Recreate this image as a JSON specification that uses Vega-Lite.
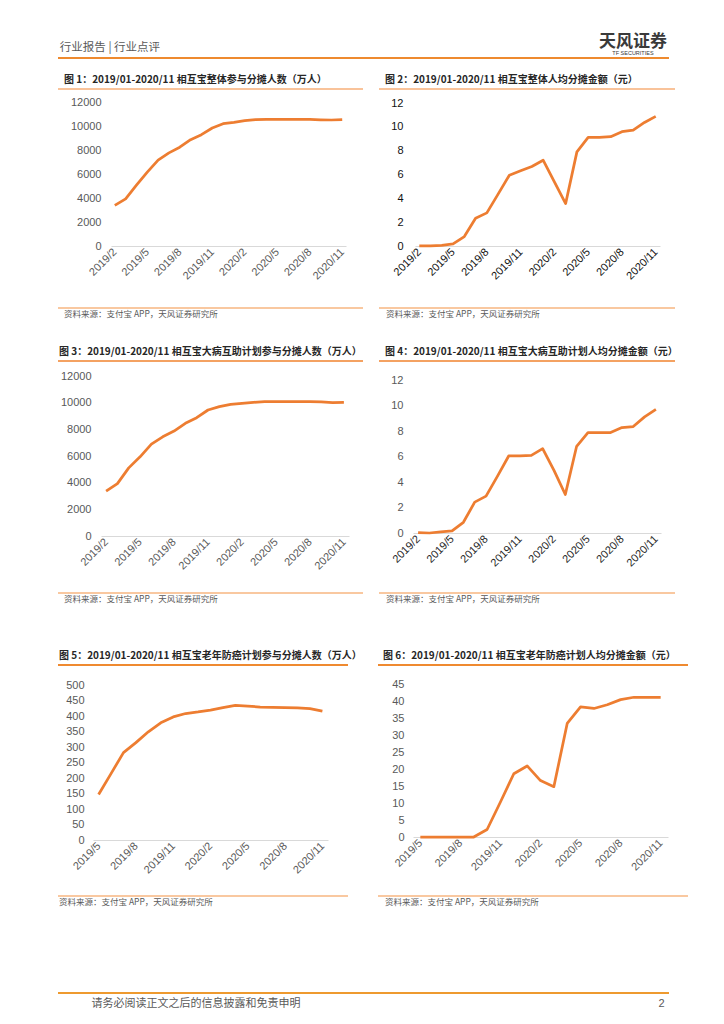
{
"$schema": "https://vega.github.io/schema/vega-lite/v6.json",
"padding": {"left": 57, "top": 25, "right": 0, "bottom": 0},
"background": "white",
"config": {"view": {"stroke": null}, "font": "Liberation Sans", "title": {"font": "Noto Sans CJK SC"}},
"datasets": {
"d1": [{"month":"2019/2","value":3380},{"month":"2019/3","value":3930},{"month":"2019/4","value":5070},{"month":"2019/5","value":6150},{"month":"2019/6","value":7150},{"month":"2019/7","value":7760},{"month":"2019/8","value":8230},{"month":"2019/9","value":8860},{"month":"2019/10","value":9280},{"month":"2019/11","value":9830},{"month":"2019/12","value":10190},{"month":"2020/1","value":10300},{"month":"2020/2","value":10440},{"month":"2020/3","value":10530},{"month":"2020/4","value":10550},{"month":"2020/5","value":10550},{"month":"2020/6","value":10550},{"month":"2020/7","value":10550},{"month":"2020/8","value":10550},{"month":"2020/9","value":10520},{"month":"2020/10","value":10500},{"month":"2020/11","value":10540}],
"d2": [{"month":"2019/2","value":0.02},{"month":"2019/3","value":0.01},{"month":"2019/4","value":0.05},{"month":"2019/5","value":0.17},{"month":"2019/6","value":0.79},{"month":"2019/7","value":2.33},{"month":"2019/8","value":2.78},{"month":"2019/9","value":4.35},{"month":"2019/10","value":5.94},{"month":"2019/11","value":6.31},{"month":"2019/12","value":6.67},{"month":"2020/1","value":7.2},{"month":"2020/2","value":5.38},{"month":"2020/3","value":3.56},{"month":"2020/4","value":7.9},{"month":"2020/5","value":9.11},{"month":"2020/6","value":9.11},{"month":"2020/7","value":9.17},{"month":"2020/8","value":9.59},{"month":"2020/9","value":9.73},{"month":"2020/10","value":10.37},{"month":"2020/11","value":10.88}],
"d3": [{"month":"2019/2","value":3360},{"month":"2019/3","value":3930},{"month":"2019/4","value":5110},{"month":"2019/5","value":5940},{"month":"2019/6","value":6890},{"month":"2019/7","value":7440},{"month":"2019/8","value":7870},{"month":"2019/9","value":8450},{"month":"2019/10","value":8870},{"month":"2019/11","value":9450},{"month":"2019/12","value":9700},{"month":"2020/1","value":9870},{"month":"2020/2","value":9950},{"month":"2020/3","value":10025},{"month":"2020/4","value":10075},{"month":"2020/5","value":10075},{"month":"2020/6","value":10075},{"month":"2020/7","value":10080},{"month":"2020/8","value":10075},{"month":"2020/9","value":10060},{"month":"2020/10","value":10000},{"month":"2020/11","value":10020}],
"d4": [{"month":"2019/2","value":0.03},{"month":"2019/3","value":0.0},{"month":"2019/4","value":0.08},{"month":"2019/5","value":0.16},{"month":"2019/6","value":0.84},{"month":"2019/7","value":2.42},{"month":"2019/8","value":2.89},{"month":"2019/9","value":4.44},{"month":"2019/10","value":6.04},{"month":"2019/11","value":6.04},{"month":"2019/12","value":6.09},{"month":"2020/1","value":6.62},{"month":"2020/2","value":4.91},{"month":"2020/3","value":3.02},{"month":"2020/4","value":6.8},{"month":"2020/5","value":7.88},{"month":"2020/6","value":7.88},{"month":"2020/7","value":7.88},{"month":"2020/8","value":8.27},{"month":"2020/9","value":8.35},{"month":"2020/10","value":9.11},{"month":"2020/11","value":9.69}],
"d5": [{"month":"2019/5","value":147},{"month":"2019/6","value":214},{"month":"2019/7","value":282},{"month":"2019/8","value":314},{"month":"2019/9","value":349},{"month":"2019/10","value":378},{"month":"2019/11","value":397},{"month":"2019/12","value":408},{"month":"2020/1","value":413},{"month":"2020/2","value":419},{"month":"2020/3","value":427},{"month":"2020/4","value":434},{"month":"2020/5","value":432},{"month":"2020/6","value":429},{"month":"2020/7","value":428},{"month":"2020/8","value":427},{"month":"2020/9","value":426},{"month":"2020/10","value":424},{"month":"2020/11","value":416}],
"d6": [{"month":"2019/5","value":0},{"month":"2019/6","value":0},{"month":"2019/7","value":0},{"month":"2019/8","value":0},{"month":"2019/9","value":0},{"month":"2019/10","value":2.2},{"month":"2019/11","value":10.3},{"month":"2019/12","value":18.6},{"month":"2020/1","value":20.9},{"month":"2020/2","value":16.6},{"month":"2020/3","value":14.8},{"month":"2020/4","value":33.4},{"month":"2020/5","value":38.3},{"month":"2020/6","value":37.8},{"month":"2020/7","value":38.9},{"month":"2020/8","value":40.4},{"month":"2020/9","value":41.1},{"month":"2020/10","value":41.1},{"month":"2020/11","value":41.1}]
},
"spacing": 16,
"vconcat": [
{"width": 611, "height": 33, "data": {"values": [{}]},
 "layer": [
  {"mark": {"type": "rule", "color": "#EE8A2F", "strokeWidth": 2}, "encoding": {"y": {"datum": 0, "type": "quantitative", "scale": {"domain": [0, 1], "nice": false}, "axis": null}}},
  {"mark": {"type": "text", "text": "行业报告 | 行业点评", "align": "left", "baseline": "middle", "fontSize": 11.5, "color": "#595959", "font": "Noto Sans CJK SC"}, "encoding": {"x": {"datum": 0.003, "type": "quantitative", "scale": {"domain": [0, 1], "nice": false}, "axis": null}, "y": {"datum": 0.3, "type": "quantitative"}}},
  {"mark": {"type": "text", "text": "天风证券", "align": "center", "baseline": "middle", "fontSize": 17, "fontWeight": "bold", "color": "#3a3a3a", "font": "Noto Sans CJK SC"}, "encoding": {"x": {"datum": 0.941, "type": "quantitative"}, "y": {"datum": 0.5, "type": "quantitative"}}},
  {"mark": {"type": "text", "text": "TF SECURITIES", "align": "center", "baseline": "middle", "fontSize": 5.5, "color": "#3a3a3a", "font": "Liberation Sans"}, "encoding": {"x": {"datum": 0.941, "type": "quantitative"}, "y": {"datum": 0.16, "type": "quantitative"}}}
 ]},
{"spacing": 28, "vconcat": [
 {"spacing": 14, "hconcat": [
  {"spacing": 0, "vconcat": [
   {"width": 305, "height": 7, "data": {"values": [{}]},
    "title": {"text": "图 1：2019/01-2020/11 相互宝整体参与分摊人数（万人）", "orient": "top", "anchor": "start", "baseline": "bottom", "offset": -7, "dx": 7, "fontSize": 10, "fontWeight": "bold", "color": "#262626", "font": "Noto Sans CJK SC"},
    "mark": {"type": "rule", "color": "#F9C39A", "strokeWidth": 2},
    "encoding": {"y": {"datum": 1, "type": "quantitative", "scale": {"domain": [0, 1], "nice": false}, "axis": null}}},
   {"width": 288, "height": 144, "data": {"name": "d1"},
    "mark": {"type": "line", "color": "#ED7D31", "strokeWidth": 2.75, "strokeJoin": "round"},
    "encoding": {
     "x": {"field": "month", "type": "ordinal", "sort": null, "scale": {"type": "point", "padding": 0.35, "range": [53, 288]},
      "axis": {"title": null, "values": ["2019/2","2019/5","2019/8","2019/11","2020/2","2020/5","2020/8","2020/11"], "labelAngle": -45, "labelAlign": "right", "labelBaseline": "middle", "labelPadding": 4, "labelFontSize": 11, "labelColor": "#595959", "ticks": false, "domainColor": "#D9D9D9", "labelOverlap": false}},
     "y": {"field": "value", "type": "quantitative", "scale": {"domain": [0, 12000], "nice": false},
      "axis": {"title": null, "offset": -53, "values": [0,2000,4000,6000,8000,10000,12000], "format": "d", "domain": false, "ticks": false, "grid": false, "labelPadding": 10, "labelFontSize": 11, "labelColor": "#595959"}}}},
   {"width": 305, "height": 26, "data": {"values": [{}]},
    "title": {"text": "资料来源：支付宝 APP，天风证券研究所", "orient": "bottom", "anchor": "start", "baseline": "top", "offset": 1, "dx": 7, "fontSize": 8.5, "fontWeight": "normal", "color": "#595959", "font": "Noto Sans CJK SC"},
    "mark": {"type": "rule", "color": "#F9C8A0", "strokeWidth": 2},
    "encoding": {"y": {"datum": 0, "type": "quantitative", "scale": {"domain": [0, 1], "nice": false}, "axis": null}}}
  ]},
  {"spacing": 0, "vconcat": [
   {"width": 296, "height": 8, "data": {"values": [{}]},
    "title": {"text": "图 2：2019/01-2020/11 相互宝整体人均分摊金额（元）", "orient": "top", "anchor": "start", "baseline": "bottom", "offset": -7, "dx": 7, "fontSize": 10, "fontWeight": "bold", "color": "#262626", "font": "Noto Sans CJK SC"},
    "mark": {"type": "rule", "color": "#F9C39A", "strokeWidth": 2},
    "encoding": {"y": {"datum": 1, "type": "quantitative", "scale": {"domain": [0, 1], "nice": false}, "axis": null}}},
   {"width": 281, "height": 143, "data": {"name": "d2"},
    "mark": {"type": "line", "color": "#ED7D31", "strokeWidth": 2.75, "strokeJoin": "round"},
    "encoding": {
     "x": {"field": "month", "type": "ordinal", "sort": null, "scale": {"type": "point", "padding": 0.38, "range": [36, 281]},
      "axis": {"title": null, "values": ["2019/2","2019/5","2019/8","2019/11","2020/2","2020/5","2020/8","2020/11"], "labelAngle": -45, "labelAlign": "right", "labelBaseline": "middle", "labelPadding": 4, "labelFontSize": 11, "labelColor": "#111111", "ticks": false, "domainColor": "#D9D9D9", "labelOverlap": false}},
     "y": {"field": "value", "type": "quantitative", "scale": {"domain": [0, 12], "nice": false},
      "axis": {"title": null, "offset": -36, "values": [0,2,4,6,8,10,12], "format": "d", "domain": false, "ticks": false, "grid": false, "labelPadding": 12, "labelFontSize": 11, "labelColor": "#111111"}}}},
   {"width": 296, "height": 26, "data": {"values": [{}]},
    "title": {"text": "资料来源：支付宝 APP，天风证券研究所", "orient": "bottom", "anchor": "start", "baseline": "top", "offset": 1, "dx": 8, "fontSize": 8.5, "fontWeight": "normal", "color": "#595959", "font": "Noto Sans CJK SC"},
    "mark": {"type": "rule", "color": "#F9C8A0", "strokeWidth": 2},
    "encoding": {"y": {"datum": 0, "type": "quantitative", "scale": {"domain": [0, 1], "nice": false}, "axis": null}}}
  ]}
 ]},
 {"spacing": 47, "vconcat": [
  {"spacing": 14, "hconcat": [
   {"spacing": 0, "vconcat": [
    {"width": 305, "height": 9, "data": {"values": [{}]},
     "title": {"text": "图 3：2019/01-2020/11 相互宝大病互助计划参与分摊人数（万人）", "orient": "top", "anchor": "start", "baseline": "bottom", "offset": -7, "dx": 2, "fontSize": 10, "fontWeight": "bold", "color": "#262626", "font": "Noto Sans CJK SC"},
     "mark": {"type": "rule", "color": "#F4A262", "strokeWidth": 2},
     "encoding": {"y": {"datum": 1, "type": "quantitative", "scale": {"domain": [0, 1], "nice": false}, "axis": null}}},
    {"width": 291, "height": 160, "data": {"name": "d3"},
     "mark": {"type": "line", "color": "#ED7D31", "strokeWidth": 2.75, "strokeJoin": "round"},
     "encoding": {
      "x": {"field": "month", "type": "ordinal", "sort": null, "scale": {"type": "point", "padding": 0.45, "range": [43, 291]},
       "axis": {"title": null, "values": ["2019/2","2019/5","2019/8","2019/11","2020/2","2020/5","2020/8","2020/11"], "labelAngle": -45, "labelAlign": "right", "labelBaseline": "middle", "labelPadding": 4, "labelFontSize": 11, "labelColor": "#595959", "ticks": false, "domainColor": "#D9D9D9", "labelOverlap": false}},
      "y": {"field": "value", "type": "quantitative", "scale": {"domain": [0, 12000], "nice": false},
       "axis": {"title": null, "offset": -43, "values": [0,2000,4000,6000,8000,10000,12000], "format": "d", "domain": false, "ticks": false, "grid": false, "labelPadding": 10, "labelFontSize": 11, "labelColor": "#595959"}}}},
    {"width": 305, "height": 21, "data": {"values": [{}]},
     "title": {"text": "资料来源：支付宝 APP，天风证券研究所", "orient": "bottom", "anchor": "start", "baseline": "top", "offset": 1, "dx": 7, "fontSize": 8.5, "fontWeight": "normal", "color": "#595959", "font": "Noto Sans CJK SC"},
     "mark": {"type": "rule", "color": "#F9C8A0", "strokeWidth": 2},
     "encoding": {"y": {"datum": 0, "type": "quantitative", "scale": {"domain": [0, 1], "nice": false}, "axis": null}}}
   ]},
   {"spacing": 0, "vconcat": [
    {"width": 296, "height": 13, "data": {"values": [{}]},
     "title": {"text": "图 4：2019/01-2020/11 相互宝大病互助计划人均分摊金额（元）", "orient": "top", "anchor": "start", "baseline": "bottom", "offset": -7, "dx": 7, "fontSize": 10, "fontWeight": "bold", "color": "#262626", "font": "Noto Sans CJK SC"},
     "mark": {"type": "rule", "color": "#F4A262", "strokeWidth": 2},
     "encoding": {"y": {"datum": 1, "type": "quantitative", "scale": {"domain": [0, 1], "nice": false}, "axis": null}}},
    {"width": 282, "height": 153, "data": {"name": "d4"},
     "mark": {"type": "line", "color": "#ED7D31", "strokeWidth": 2.75, "strokeJoin": "round"},
     "encoding": {
      "x": {"field": "month", "type": "ordinal", "sort": null, "scale": {"type": "point", "padding": 0.45, "range": [34, 282]},
       "axis": {"title": null, "values": ["2019/2","2019/5","2019/8","2019/11","2020/2","2020/5","2020/8","2020/11"], "labelAngle": -45, "labelAlign": "right", "labelBaseline": "middle", "labelPadding": 4, "labelFontSize": 11, "labelColor": "#262626", "ticks": false, "domainColor": "#D9D9D9", "labelOverlap": false}},
      "y": {"field": "value", "type": "quantitative", "scale": {"domain": [0, 12], "nice": false},
       "axis": {"title": null, "offset": -34, "values": [0,2,4,6,8,10,12], "format": "d", "domain": false, "ticks": false, "grid": false, "labelPadding": 10, "labelFontSize": 11, "labelColor": "#595959"}}}},
    {"width": 296, "height": 24, "data": {"values": [{}]},
     "title": {"text": "资料来源：支付宝 APP，天风证券研究所", "orient": "bottom", "anchor": "start", "baseline": "top", "offset": 1, "dx": 8, "fontSize": 8.5, "fontWeight": "normal", "color": "#595959", "font": "Noto Sans CJK SC"},
     "mark": {"type": "rule", "color": "#F9C8A0", "strokeWidth": 2},
     "encoding": {"y": {"datum": 0, "type": "quantitative", "scale": {"domain": [0, 1], "nice": false}, "axis": null}}}
   ]}
  ]},
  {"spacing": 85, "vconcat": [
   {"spacing": 15, "hconcat": [
    {"spacing": 0, "vconcat": [
     {"width": 290, "height": 14, "data": {"values": [{}]},
      "title": {"text": "图 5：2019/01-2020/11 相互宝老年防癌计划参与分摊人数（万人）", "orient": "top", "anchor": "start", "baseline": "bottom", "offset": -7, "dx": 2, "fontSize": 10, "fontWeight": "bold", "color": "#262626", "font": "Noto Sans CJK SC"},
      "mark": {"type": "rule", "color": "#EF8A30", "strokeWidth": 2},
      "encoding": {"y": {"datum": 1, "type": "quantitative", "scale": {"domain": [0, 1], "nice": false}, "axis": null}}},
     {"width": 270, "height": 155, "data": {"name": "d5"},
      "mark": {"type": "line", "color": "#ED7D31", "strokeWidth": 2.75, "strokeJoin": "round"},
      "encoding": {
       "x": {"field": "month", "type": "ordinal", "sort": null, "scale": {"type": "point", "padding": 0.45, "range": [35, 270]},
        "axis": {"title": null, "values": ["2019/5","2019/8","2019/11","2020/2","2020/5","2020/8","2020/11"], "labelAngle": -45, "labelAlign": "right", "labelBaseline": "middle", "labelPadding": 4, "labelFontSize": 11, "labelColor": "#595959", "ticks": false, "domainColor": "#D9D9D9", "labelOverlap": false}},
       "y": {"field": "value", "type": "quantitative", "scale": {"domain": [0, 500], "nice": false},
        "axis": {"title": null, "offset": -35, "values": [0,50,100,150,200,250,300,350,400,450,500], "format": "d", "domain": false, "ticks": false, "grid": false, "labelPadding": 9, "labelFontSize": 11, "labelColor": "#595959"}}}},
     {"width": 290, "height": 20, "data": {"values": [{}]},
      "title": {"text": "资料来源：支付宝 APP，天风证券研究所", "orient": "bottom", "anchor": "start", "baseline": "top", "offset": 1, "dx": 2, "fontSize": 8.5, "fontWeight": "normal", "color": "#595959", "font": "Noto Sans CJK SC"},
      "mark": {"type": "rule", "color": "#F9C8A0", "strokeWidth": 2},
      "encoding": {"y": {"datum": 0, "type": "quantitative", "scale": {"domain": [0, 1], "nice": false}, "axis": null}}}
    ]},
    {"spacing": 0, "vconcat": [
     {"width": 310, "height": 13, "data": {"values": [{}]},
      "title": {"text": "图 6：2019/01-2020/11 相互宝老年防癌计划人均分摊金额（元）", "orient": "top", "anchor": "start", "baseline": "bottom", "offset": -7, "dx": 6, "fontSize": 10, "fontWeight": "bold", "color": "#262626", "font": "Noto Sans CJK SC"},
      "mark": {"type": "rule", "color": "#EF8A30", "strokeWidth": 2},
      "encoding": {"y": {"datum": 1, "type": "quantitative", "scale": {"domain": [0, 1], "nice": false}, "axis": null}}},
     {"width": 290, "height": 153, "data": {"name": "d6"},
      "mark": {"type": "line", "color": "#ED7D31", "strokeWidth": 2.75, "strokeJoin": "round"},
      "encoding": {
       "x": {"field": "month", "type": "ordinal", "sort": null, "scale": {"type": "point", "padding": 0.55, "range": [35, 290]},
        "axis": {"title": null, "values": ["2019/5","2019/8","2019/11","2020/2","2020/5","2020/8","2020/11"], "labelAngle": -45, "labelAlign": "right", "labelBaseline": "middle", "labelPadding": 4, "labelFontSize": 11, "labelColor": "#595959", "ticks": false, "domainColor": "#D9D9D9", "labelOverlap": false}},
       "y": {"field": "value", "type": "quantitative", "scale": {"domain": [0, 45], "nice": false},
        "axis": {"title": null, "offset": -35, "values": [0,5,10,15,20,25,30,35,40,45], "format": "d", "domain": false, "ticks": false, "grid": false, "labelPadding": 9, "labelFontSize": 11, "labelColor": "#595959"}}}},
     {"width": 310, "height": 23, "data": {"values": [{}]},
      "title": {"text": "资料来源：支付宝 APP，天风证券研究所", "orient": "bottom", "anchor": "start", "baseline": "top", "offset": 1, "dx": 8, "fontSize": 8.5, "fontWeight": "normal", "color": "#595959", "font": "Noto Sans CJK SC"},
      "mark": {"type": "rule", "color": "#F9C8A0", "strokeWidth": 2},
      "encoding": {"y": {"datum": 0, "type": "quantitative", "scale": {"domain": [0, 1], "nice": false}, "axis": null}}}
    ]}
   ]},
   {"width": 611, "height": 22, "data": {"values": [{}]},
    "layer": [
     {"mark": {"type": "rule", "color": "#EE9A2F", "strokeWidth": 2}, "encoding": {"y": {"datum": 1, "type": "quantitative", "scale": {"domain": [0, 1], "nice": false}, "axis": null}}},
     {"mark": {"type": "text", "text": "请务必阅读正文之后的信息披露和免责申明", "align": "left", "baseline": "middle", "fontSize": 11, "color": "#595959", "font": "Noto Sans CJK SC"}, "encoding": {"x": {"datum": 0.055, "type": "quantitative", "scale": {"domain": [0, 1], "nice": false}, "axis": null}, "y": {"datum": 0.5, "type": "quantitative"}}},
     {"mark": {"type": "text", "text": "2", "align": "center", "baseline": "middle", "fontSize": 11, "color": "#595959", "font": "Liberation Sans"}, "encoding": {"x": {"datum": 0.988, "type": "quantitative"}, "y": {"datum": 0.5, "type": "quantitative"}}}
    ]}
  ]}
 ]}
]}
]
}
